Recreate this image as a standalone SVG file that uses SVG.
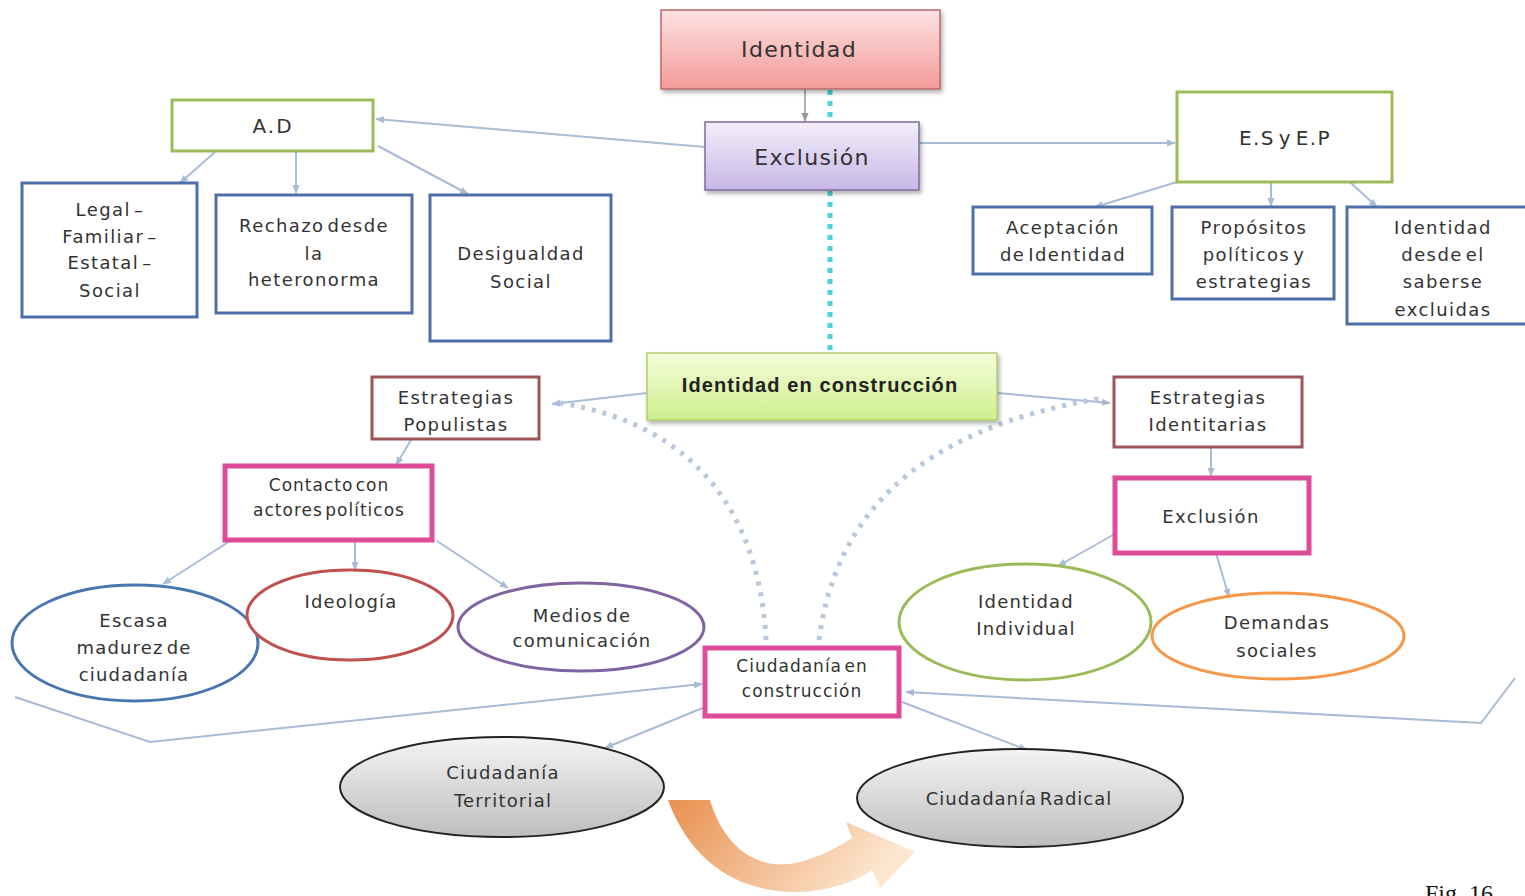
<svg xmlns="http://www.w3.org/2000/svg" width="1525" height="896" viewBox="0 0 1525 896">
<style>
.t{font-family:"DejaVu Sans",Verdana,sans-serif;font-size:18px;fill:#333;text-anchor:middle;letter-spacing:1.4px;word-spacing:-4px}
.s{font-size:17px;letter-spacing:1px}
.big{font-size:22px;letter-spacing:1.3px}
.el{letter-spacing:1.2px}
.b{font-family:"Liberation Sans",Arial,sans-serif;font-weight:bold;font-size:20px;letter-spacing:1.1px;fill:#222;text-anchor:middle}
.blue{fill:#fff;stroke:#4f6fa8;stroke-width:3}
.green{fill:#fff;stroke:#9bbb59;stroke-width:3}
.brown{fill:#fff;stroke:#9b5556;stroke-width:3}
.pink{fill:#fff;stroke:#de4b98;stroke-width:5}
.con{fill:none;stroke:#a9bcd6;stroke-width:2;marker-end:url(#ah)}
.dotc{fill:none;stroke:#b9c9dd;stroke-width:5;stroke-dasharray:4 7}
.cyan{fill:none;stroke:#48d4d4;stroke-width:5;stroke-dasharray:5 6}
</style>
<defs>
<marker id="ah" viewBox="0 0 10 10" refX="9" refY="5" markerWidth="9" markerHeight="9" markerUnits="userSpaceOnUse" orient="auto"><path d="M0,1 L10,5 L0,9 z" fill="#a9bcd6"/></marker>
<marker id="ahg" viewBox="0 0 10 10" refX="9" refY="5" markerWidth="9" markerHeight="9" markerUnits="userSpaceOnUse" orient="auto"><path d="M0,1 L10,5 L0,9 z" fill="#999"/></marker>
<linearGradient id="gRed" x1="0" y1="0" x2="0" y2="1"><stop offset="0" stop-color="#fde2e2"/><stop offset="1" stop-color="#f49a9a"/></linearGradient>
<linearGradient id="gPur" x1="0" y1="0" x2="0" y2="1"><stop offset="0" stop-color="#f3effa"/><stop offset="1" stop-color="#c7b7e6"/></linearGradient>
<linearGradient id="gGrn" x1="0" y1="0" x2="0" y2="1"><stop offset="0" stop-color="#f5fdda"/><stop offset="1" stop-color="#cdee8e"/></linearGradient>
<linearGradient id="gGray" x1="0" y1="0" x2="0" y2="1"><stop offset="0" stop-color="#f4f4f4"/><stop offset="1" stop-color="#bdbdbd"/></linearGradient>
<linearGradient id="gOr" x1="0" y1="0" x2="1" y2="0.3"><stop offset="0" stop-color="#e8904f"/><stop offset="1" stop-color="#fde6cf"/></linearGradient>
<filter id="sh" x="-10%" y="-10%" width="130%" height="140%"><feDropShadow dx="2" dy="3" stdDeviation="2" flood-color="#000" flood-opacity="0.3"/></filter>
</defs>
<rect width="1525" height="896" fill="#fff"/>

<g id="connectors">
<path class="cyan" d="M830 90 L830 122"/>
<path class="cyan" d="M830 191 L830 352"/>
<path d="M805 89 L805 121" fill="none" stroke="#999" stroke-width="1.5" marker-end="url(#ahg)"/>
<path class="con" d="M705 147 L376 119"/>
<path class="con" d="M919 143 L1175 143"/>
<path class="con" d="M215 152 L180 183"/>
<path class="con" d="M296 152 L296 193"/>
<path class="con" d="M378 146 L468 194"/>
<path class="con" d="M1177 182 L1095 207"/>
<path class="con" d="M1271 182 L1271 206"/>
<path class="con" d="M1350 182 L1377 207"/>
<path class="con" d="M647 393 L552 404"/>
<path class="con" d="M997 393 L1110 403"/>
<path class="con" d="M411 440 L396 465"/>
<path class="con" d="M1211 447 L1211 476"/>
<path class="con" d="M230 541 L163 584"/>
<path class="con" d="M355 541 L355 570"/>
<path class="con" d="M437 541 L508 588"/>
<path class="con" d="M1113 535 L1058 566"/>
<path class="con" d="M1216 553 L1229 597"/>
<path class="con" d="M15 697 L150 742 L702 684"/>
<path class="con" d="M1515 678 L1481 723 L906 692"/>
<path class="con" d="M705 707 L605 748"/>
<path class="con" d="M902 702 L1027 750"/>
<path class="dotc" d="M766 640 C 760 520, 700 425, 560 403"/>
<path class="dotc" d="M819 640 C 835 520, 910 430, 1103 398"/>
<path d="M668 800 L710 800 C 725 850, 760 872, 800 862 C 822 856, 840 846, 852 838 L 846 822 L 915 852 L 880 888 L 872 870 C 850 885, 820 893, 790 892 C 735 890, 690 860, 668 800 Z" fill="url(#gOr)"/>
</g>

<g id="n-identidad"><rect x="661" y="10" width="279" height="79" fill="url(#gRed)" stroke="#b86a6a" stroke-width="1.5" filter="url(#sh)"/><text class="t big" x="799" y="57">Identidad</text></g>
<g id="n-exclusion"><rect x="705" y="122" width="214" height="68" fill="url(#gPur)" stroke="#7d6b9e" stroke-width="1.5" filter="url(#sh)"/><text class="t big" x="812" y="165">Exclusión</text></g>
<g id="n-ad"><rect class="green" x="172" y="100" width="201" height="51"/><text class="t" style="font-size:20px;letter-spacing:2px" x="273" y="133">A.D</text></g>
<g id="n-esep"><rect class="green" x="1177" y="92" width="215" height="90"/><text class="t" style="font-size:20px" x="1285" y="145">E.S y E.P</text></g>
<g id="n-legal"><rect class="blue" x="22" y="183" width="175" height="134"/>
<text class="t" x="110" y="216">Legal –</text><text class="t" x="110" y="243">Familiar –</text><text class="t" x="110" y="269">Estatal –</text><text class="t" x="110" y="297">Social</text></g>
<g id="n-rechazo"><rect class="blue" x="216" y="195" width="196" height="118"/>
<text class="t" x="314" y="232">Rechazo desde</text><text class="t" x="314" y="260">la</text><text class="t" x="314" y="286">heteronorma</text></g>
<g id="n-desigualdad"><rect class="blue" x="430" y="195" width="181" height="146"/>
<text class="t" x="521" y="260">Desigualdad</text><text class="t" x="521" y="288">Social</text></g>
<g id="n-aceptacion"><rect class="blue" x="973" y="207" width="179" height="67"/>
<text class="t" x="1063" y="234">Aceptación</text><text class="t" x="1063" y="261">de Identidad</text></g>
<g id="n-propositos"><rect class="blue" x="1172" y="207" width="162" height="92"/>
<text class="t" x="1254" y="234">Propósitos</text><text class="t" x="1254" y="261">políticos y</text><text class="t" x="1254" y="288">estrategias</text></g>
<g id="n-identidad-desde"><rect class="blue" x="1347" y="207" width="180" height="117"/>
<text class="t" x="1443" y="234">Identidad</text><text class="t" x="1443" y="261">desde el</text><text class="t" x="1443" y="288">saberse</text><text class="t" x="1443" y="316">excluidas</text></g>
<g id="n-iec"><rect x="647" y="353" width="350" height="67" fill="url(#gGrn)" stroke="#b5cc70" stroke-width="1.5" filter="url(#sh)"/><text class="b" x="820" y="392">Identidad en construcción</text></g>
<g id="n-estpop"><rect class="brown" x="372" y="377" width="167" height="62"/>
<text class="t" x="456" y="404">Estrategias</text><text class="t" x="456" y="431">Populistas</text></g>
<g id="n-estident"><rect class="brown" x="1114" y="377" width="188" height="70"/>
<text class="t" x="1208" y="404">Estrategias</text><text class="t" x="1208" y="431">Identitarias</text></g>
<g id="n-contacto"><rect class="pink" x="225" y="466" width="207" height="74"/>
<text class="t s" x="329" y="491">Contacto con</text><text class="t s" x="329" y="516">actores políticos</text></g>
<g id="n-exclusion2"><rect class="pink" x="1115" y="478" width="194" height="75"/><text class="t" x="1211" y="523">Exclusión</text></g>
<g id="n-escasa"><ellipse cx="135" cy="643" rx="123" ry="58" fill="#fff" stroke="#4a76b0" stroke-width="3"/>
<text class="t el" x="134" y="627">Escasa</text><text class="t el" x="134" y="654">madurez de</text><text class="t el" x="134" y="681">ciudadanía</text></g>
<g id="n-ideologia"><ellipse cx="350" cy="615" rx="103" ry="45" fill="#fff" stroke="#c0504d" stroke-width="3"/><text class="t el" x="351" y="608">Ideología</text></g>
<g id="n-medios"><ellipse cx="581" cy="627" rx="123" ry="44" fill="#fff" stroke="#8064a2" stroke-width="3"/>
<text class="t el" x="582" y="622">Medios de</text><text class="t el" x="582" y="647">comunicación</text></g>
<g id="n-ciudadania"><rect class="pink" x="705" y="648" width="194" height="68"/>
<text class="t s" x="802" y="672">Ciudadanía en</text><text class="t s" x="802" y="697">construcción</text></g>
<g id="n-idind"><ellipse cx="1025" cy="622" rx="126" ry="58" fill="#fff" stroke="#9bbb59" stroke-width="3"/>
<text class="t el" x="1026" y="608">Identidad</text><text class="t el" x="1026" y="635">Individual</text></g>
<g id="n-demandas"><ellipse cx="1278" cy="636" rx="126" ry="43" fill="#fff" stroke="#f79646" stroke-width="3"/>
<text class="t el" x="1277" y="629">Demandas</text><text class="t el" x="1277" y="657">sociales</text></g>
<g id="n-territorial"><ellipse cx="502" cy="787" rx="162" ry="50" fill="url(#gGray)" stroke="#222" stroke-width="2"/>
<text class="t el" x="503" y="779">Ciudadanía</text><text class="t el" x="503" y="807">Territorial</text></g>
<g id="n-radical"><ellipse cx="1020" cy="798" rx="163" ry="49" fill="url(#gGray)" stroke="#222" stroke-width="2"/>
<text class="t" style="letter-spacing:1px" x="1019" y="805">Ciudadanía Radical</text></g>
<text x="1425" y="901" style="font-family:'Liberation Serif','Times New Roman',serif;font-size:24px;fill:#111">Fig. 16</text>
</svg>
